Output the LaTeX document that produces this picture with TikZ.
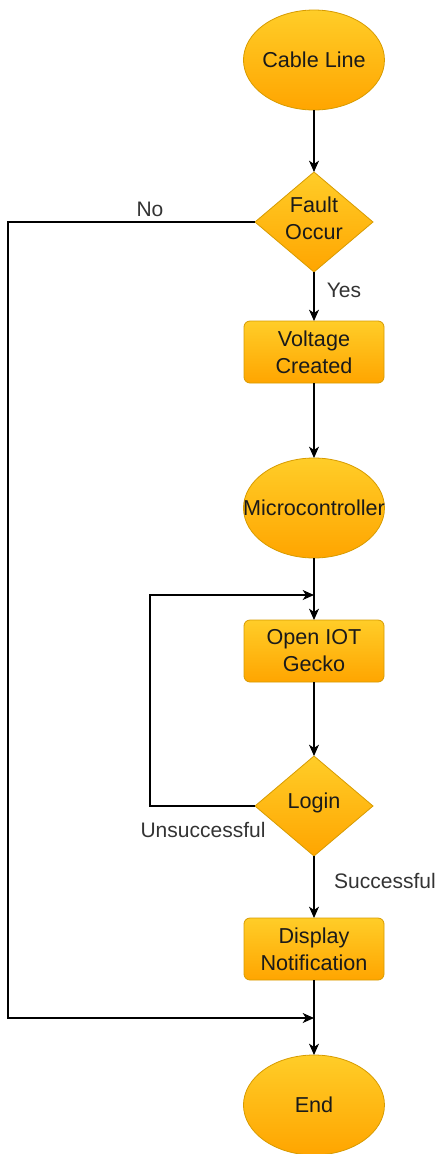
\documentclass[tikz,border=0pt]{standalone}
\usepackage{fontspec}
\setmainfont{Liberation Sans}
\usetikzlibrary{shapes.geometric,arrows.meta}
\definecolor{fillTop}{HTML}{FFCD28}
\definecolor{fillBot}{HTML}{FFA500}
\definecolor{strokeC}{HTML}{D79B00}
\definecolor{txtC}{HTML}{1A1A1A}
\definecolor{lblC}{HTML}{333333}
\tikzset{
  shapebase/.style={draw=strokeC, line width=0.6pt, top color=fillTop, bottom color=fillBot, inner sep=0pt, outer sep=0pt},
  term/.style={shapebase, ellipse, minimum width=105.75pt, minimum height=75pt},
  decision/.style={shapebase, diamond, minimum width=88.5pt, minimum height=75pt, aspect=1.18},
  process/.style={shapebase, rectangle, rounded corners=4.5pt, minimum width=105pt, minimum height=46.5pt},
  ntxt/.style={text=txtC, align=center, font=\fontsize{16.2}{20.25}\selectfont, inner sep=0pt},
  lbl/.style={text=lblC, font=\fontsize{15.75}{20.25}\selectfont, inner sep=0pt},
  conn/.style={draw=black, line width=0.8pt},
  arr/.style={conn, -{Stealth[length=8.5pt, width=7.5pt, inset=2.5pt]}},
}
\begin{document}
\begin{tikzpicture}[x=0.75pt, y=-0.75pt]
\useasboundingbox (0,0) rectangle (437,1154);
\node[term, label={[ntxt]center:Cable Line}] (cable) at (314,60) {};
\node[decision, label={[ntxt, yshift=2.6pt]center:Fault\\Occur}] (fault) at (314,222) {};
\node[process, label={[ntxt]center:Voltage\\Created}] (volt) at (314,352) {};
\node[term, label={[ntxt]center:Microcontroller}] (mc) at (314,508) {};
\node[process, label={[ntxt]center:Open IOT\\Gecko}] (open) at (314,651) {};
\node[decision, label={[ntxt, yshift=2pt]center:Login}] (login) at (314,806) {};
\node[process, label={[ntxt]center:Display\\Notification}] (disp) at (314,949) {};
\node[term, label={[ntxt]center:End}] (end) at (314,1105) {};

\coordinate (j1) at (314,1018);
\coordinate (j2) at (314,595);

\draw[arr] (cable) -- (fault);
\draw[arr] (fault) -- (volt);
\draw[arr] (volt) -- (mc);
\draw[arr] (mc) -- (open);
\draw[arr] (open) -- (login);
\draw[arr] (login) -- (disp);
\draw[arr] (disp) -- (end);
\draw[arr] (fault.west) -- ++(-247,0) |- (j1);
\draw[arr] (login.west) -- ++(-105,0) |- (j2);

\node[lbl] (lno) at (150,209) {No};
\node[lbl] (lyes) at (344,290) {Yes};
\node[lbl] (lun) at (203,830) {Unsuccessful};
\node[lbl] (lsu) at (385,881) {Successful};
\end{tikzpicture}
\end{document}
